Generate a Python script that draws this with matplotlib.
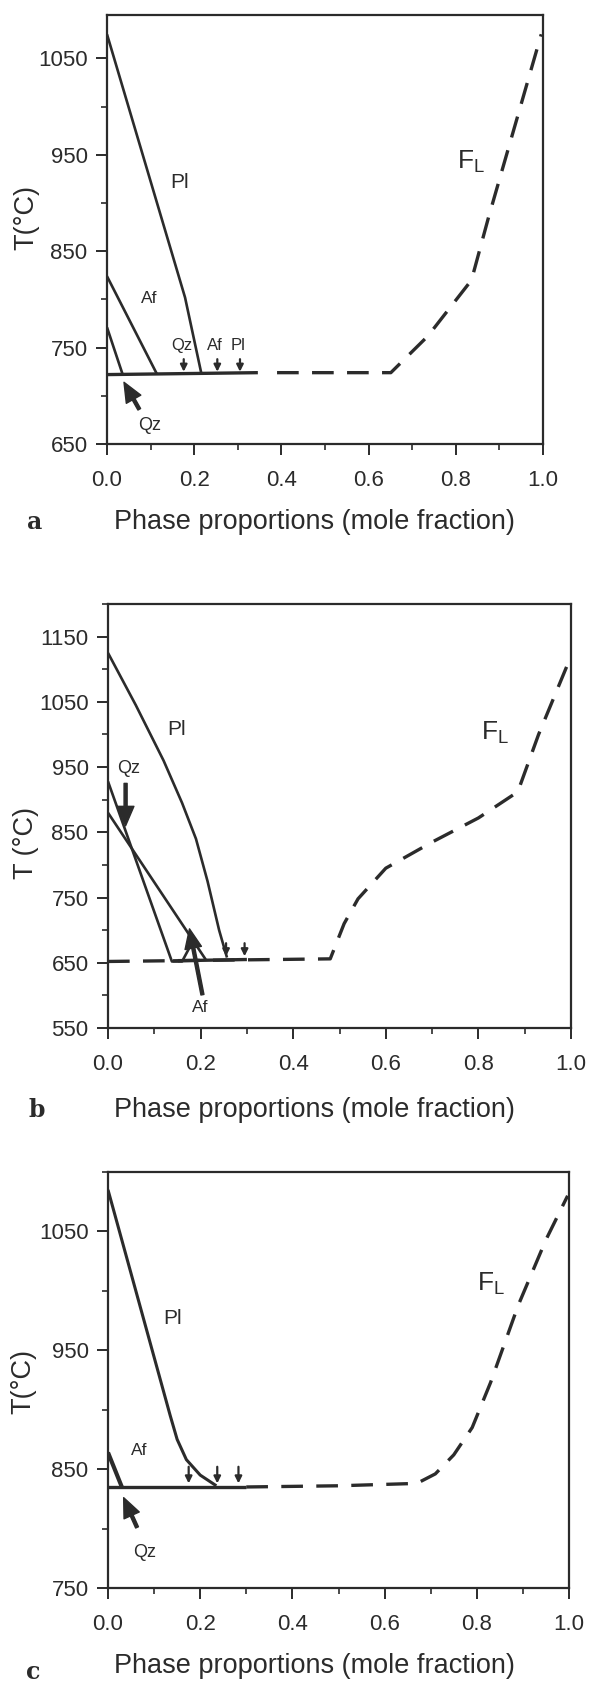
import matplotlib.pyplot as plt
from matplotlib.ticker import MultipleLocator

plt.rcParams['font.family'] = ['Liberation Sans', 'DejaVu Sans']
plt.rcParams['mathtext.default'] = 'regular'
INK = '#2b2b2b'

# ---- panel a ----
a_pl_x = [0.0, 0.179, 0.216]
a_pl_t = [1075, 802, 724]
a_af_x = [0.0, 0.114]
a_af_t = [824, 723]
a_qz_x = [0.0, 0.036]
a_qz_t = [771, 722]
a_sol_x = [0.0, 0.346]
a_sol_t = [722, 724]
a_fl_x = [0.39, 0.651, 0.736, 0.836, 0.875, 0.996]
a_fl_t = [724, 724, 762, 820, 885, 1075]
a_mark_x = [0.176, 0.253, 0.305]
a_mark_lab = ['Qz', 'Af', 'Pl']

# ---- panel b ----
b_pl_x = [0.0, 0.06, 0.12, 0.16, 0.19, 0.215, 0.24, 0.257]
b_pl_t = [1125, 1045, 960, 895, 840, 775, 700, 658]
b_af_x = [0.0, 0.211]
b_af_t = [880, 655]
b_qz_x = [0.0, 0.138, 0.16, 0.175]
b_qz_t = [928, 652, 652, 672]
b_sol_x = [0.14, 0.30]
b_sol_t = [653, 655]
b_fl_x = [0.0, 0.48, 0.51, 0.54, 0.6, 0.7, 0.8, 0.885, 0.93, 1.0]
b_fl_t = [652, 656, 710, 748, 795, 835, 872, 912, 1000, 1120]
b_mark_x = [0.255, 0.295]

# ---- panel c ----
c_pl_x = [0.0, 0.135, 0.15, 0.17, 0.2, 0.235]
c_pl_t = [1085, 895, 875, 858, 845, 836]
c_af_x = [0.0, 0.03]
c_af_t = [864, 835]
c_sol_x = [0.0, 0.30]
c_sol_t = [835, 835]
c_fl_x = [0.30, 0.5, 0.67, 0.71, 0.75, 0.79, 0.83, 0.89, 0.95, 0.997]
c_fl_t = [835, 836, 838, 846, 862, 885, 923, 988, 1043, 1080]
c_mark_x = [0.175, 0.237, 0.283]

W, H = 589, 1684
fig = plt.figure(figsize=(W / 100, H / 100), dpi=100)


def box(l, r, t, b):
    return [l / W, 1 - b / H, (r - l) / W, (b - t) / H]


def style(ax, ylo, yhi, y0):
    ax.set_xlim(0, 1)
    ax.set_ylim(ylo, yhi)
    ax.xaxis.set_major_locator(MultipleLocator(0.2))
    ax.xaxis.set_minor_locator(MultipleLocator(0.1))
    ax.set_yticks(range(y0, int(yhi), 100))
    ax.yaxis.set_minor_locator(MultipleLocator(50))
    ax.xaxis.set_major_formatter(lambda v, p: f'{v:.1f}')
    ax.tick_params(which='major', length=8, width=1.4, color=INK,
                   labelsize=16, labelcolor=INK)
    ax.tick_params(which='minor', length=4, width=1.2, color=INK)
    ax.tick_params(axis='x', which='major', pad=11)
    ax.tick_params(axis='y', which='major', pad=6)
    for s in ax.spines.values():
        s.set_linewidth(1.6)
        s.set_color(INK)


def solid(ax, x, y, lw=1.9):
    ax.plot(x, y, color=INK, lw=lw, solid_capstyle='butt')


def dashed(ax, x, y):
    ax.plot(x, y, color=INK, lw=2.4, dashes=(6.5, 4))


def small_arrow(ax, x, top, tip):
    ax.annotate('', xy=(x, tip), xytext=(x, top),
                arrowprops=dict(arrowstyle='-|>', color=INK, lw=1.6,
                                mutation_scale=10, shrinkA=0, shrinkB=0))


def big_arrow(ax, tail, tip):
    ax.annotate('', xy=tip, xytext=tail,
                arrowprops=dict(facecolor=INK, edgecolor=INK, width=2.2,
                                headwidth=12, headlength=14, shrink=0))


# panel a
ax = fig.add_axes(box(107, 543, 15, 444))
style(ax, 650, 1095, 650)
solid(ax, a_pl_x, a_pl_t)
solid(ax, a_af_x, a_af_t)
solid(ax, a_qz_x, a_qz_t)
solid(ax, a_sol_x, a_sol_t, lw=2.4)
dashed(ax, a_fl_x, a_fl_t)
for x, lab in zip(a_mark_x, a_mark_lab):
    small_arrow(ax, x, 738, 725)
    ax.text(x - 0.005, 752, lab, fontsize=12, ha='center', va='center', color=INK)
big_arrow(ax, (0.074, 686), (0.039, 714))
ax.text(0.097, 669, 'Qz', fontsize=13, ha='center', va='center', color=INK)
ax.text(0.166, 921, 'Pl', fontsize=15, ha='center', va='center', color=INK)
ax.text(0.097, 801, 'Af', fontsize=12.5, ha='center', va='center', color=INK)
ax.text(0.835, 943, 'F$_L$', fontsize=19, ha='center', va='center', color=INK)

# panel b
ax = fig.add_axes(box(108, 571, 604, 1028))
style(ax, 550, 1200, 550)
solid(ax, b_pl_x, b_pl_t)
solid(ax, b_af_x, b_af_t)
solid(ax, b_qz_x, b_qz_t)
solid(ax, b_sol_x, b_sol_t, lw=2.4)
dashed(ax, b_fl_x, b_fl_t)
for x in b_mark_x:
    small_arrow(ax, x, 680, 660)
big_arrow(ax, (0.038, 925), (0.038, 860))
ax.text(0.045, 948, 'Qz', fontsize=13, ha='center', va='center', color=INK)
big_arrow(ax, (0.204, 601), (0.176, 702))
ax.text(0.2, 582, 'Af', fontsize=12.5, ha='center', va='center', color=INK)
ax.text(0.148, 1007, 'Pl', fontsize=15, ha='center', va='center', color=INK)
ax.text(0.835, 1002, 'F$_L$', fontsize=19, ha='center', va='center', color=INK)

# panel c
ax = fig.add_axes(box(108, 569, 1172, 1588))
style(ax, 750, 1100, 750)
solid(ax, c_pl_x, c_pl_t, lw=2.2)
solid(ax, c_af_x, c_af_t, lw=3)
solid(ax, c_sol_x, c_sol_t, lw=2.4)
dashed(ax, c_fl_x, c_fl_t)
for x in c_mark_x:
    small_arrow(ax, x, 852, 838)
big_arrow(ax, (0.063, 801), (0.034, 826))
ax.text(0.08, 780, 'Qz', fontsize=13, ha='center', va='center', color=INK)
ax.text(0.068, 866, 'Af', fontsize=12.5, ha='center', va='center', color=INK)
ax.text(0.14, 977, 'Pl', fontsize=15, ha='center', va='center', color=INK)
ax.text(0.83, 1006, 'F$_L$', fontsize=19, ha='center', va='center', color=INK)

# axis titles and panel letters
for ylab, yc, xc in [('T(°C)', 218, 26), ('T (°C)', 843, 26), ('T(°C)', 1382, 23)]:
    fig.text(xc / W, 1 - yc / H, ylab, rotation=90, fontsize=19.5,
             ha='center', va='center', color=INK)
for xlab_y in [522, 1110, 1666]:
    fig.text(314 / W, 1 - xlab_y / H, 'Phase proportions (mole fraction)',
             fontsize=19.5, ha='center', va='center', color=INK)
for letter, yc, xc in [('a', 522, 35), ('b', 1110, 37), ('c', 1672, 33)]:
    fig.text(xc / W, 1 - yc / H, letter, fontsize=17, fontweight='bold',
             family='DejaVu Serif', ha='center', va='center', color=INK)

fig.savefig('out.png', dpi=100)
